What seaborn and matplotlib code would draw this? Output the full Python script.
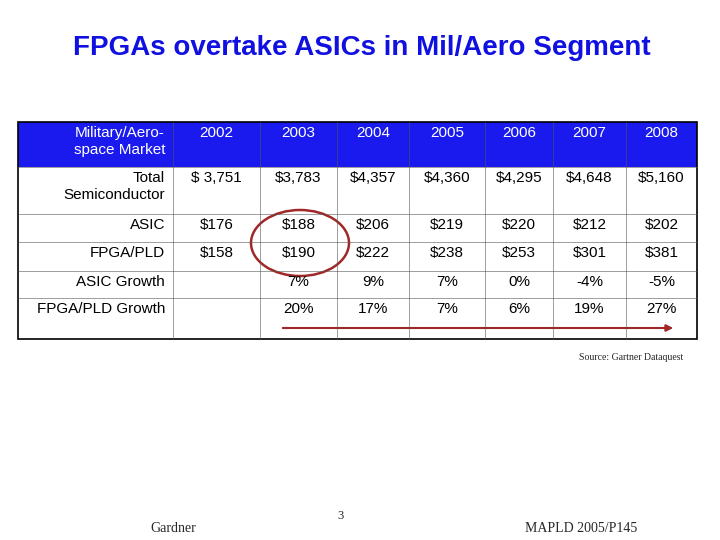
import matplotlib
matplotlib.use("Agg")
import matplotlib.pyplot as plt
import seaborn as sns
from matplotlib.patches import Rectangle, Ellipse, FancyArrowPatch

sns.set_theme(style="white")
plt.rcParams['font.family'] = ['Liberation Sans', 'DejaVu Sans']

years = ["2002", "2003", "2004", "2005", "2006", "2007", "2008"]
row_labels = ["Total\nSemiconductor", "ASIC", "FPGA/PLD", "ASIC Growth", "FPGA/PLD Growth"]
total_semi = ["$ 3,751", "$3,783", "$4,357", "$4,360", "$4,295", "$4,648", "$5,160"]
asic = ["$176", "$188", "$206", "$219", "$220", "$212", "$202"]
fpga = ["$158", "$190", "$222", "$238", "$253", "$301", "$381"]
asic_growth = ["", "7%", "9%", "7%", "0%", "-4%", "-5%"]
fpga_growth = ["", "20%", "17%", "7%", "6%", "19%", "27%"]
rows = [total_semi, asic, fpga, asic_growth, fpga_growth]

fig = plt.figure(figsize=(7.2, 5.4), dpi=100)
ax = fig.add_axes([0, 0, 1, 1])
ax.set_xlim(0, 720)
ax.set_ylim(540, 0)
ax.axis("off")

ax.text(362, 48, "FPGAs overtake ASICs in Mil/Aero Segment", ha="center", va="center",
        fontsize=20, fontweight="bold", color="#1010e0")

col_x = [18, 173, 260, 337, 409, 485, 553, 626, 697]
row_y = [122, 167, 214, 242, 271, 298, 339]

# header band
ax.add_patch(Rectangle((col_x[0], row_y[0]), col_x[-1] - col_x[0], row_y[1] - row_y[0],
                       facecolor="#1a1aee", edgecolor="none"))
ax.add_patch(Rectangle((col_x[0], row_y[0]), col_x[-1] - col_x[0], row_y[-1] - row_y[0],
                       facecolor="none", edgecolor="black", lw=1.2))
for x in col_x[1:-1]:
    ax.plot([x, x], [row_y[0], row_y[-1]], color="#555555", lw=0.4)
for y in row_y[1:-1]:
    ax.plot([col_x[0], col_x[-1]], [y, y], color="#555555", lw=0.4)

fs = 11
ax.text(col_x[1] - 8, row_y[0] + 4, "Military/Aero-\nspace Market", ha="right", va="top",
        fontsize=fs, color="white", linespacing=1.25)
for i, yr in enumerate(years):
    cx = (col_x[i + 1] + col_x[i + 2]) / 2
    ax.text(cx, row_y[0] + 4, yr, ha="center", va="top", fontsize=fs, color="white")

for r, (label, vals) in enumerate(zip(row_labels, rows)):
    ty = row_y[r + 1] + 4
    ax.text(col_x[1] - 8, ty, label, ha="right", va="top", fontsize=fs, color="black",
            linespacing=1.25)
    for i, v in enumerate(vals):
        cx = (col_x[i + 1] + col_x[i + 2]) / 2
        ax.text(cx, ty, v, ha="center", va="top", fontsize=fs, color="black")

ax.add_patch(Ellipse((300, 243), 98, 66, facecolor="none", edgecolor="#a02828", lw=1.8))
ax.add_patch(FancyArrowPatch((280, 328), (676, 328), arrowstyle="-|>", mutation_scale=10,
                             color="#a02828", lw=1.5))

ax.text(683, 357, "Source: Gartner Dataquest", ha="right", va="center", fontsize=7,
        family="Liberation Serif")
ax.text(150, 528, "Gardner", ha="left", va="center", fontsize=10, family="Liberation Serif")
ax.text(340, 516, "3", ha="center", va="center", fontsize=9, family="Liberation Serif")
ax.text(525, 528, "MAPLD 2005/P145", ha="left", va="center", fontsize=10,
        family="Liberation Serif")

fig.savefig("out.png", dpi=100)
